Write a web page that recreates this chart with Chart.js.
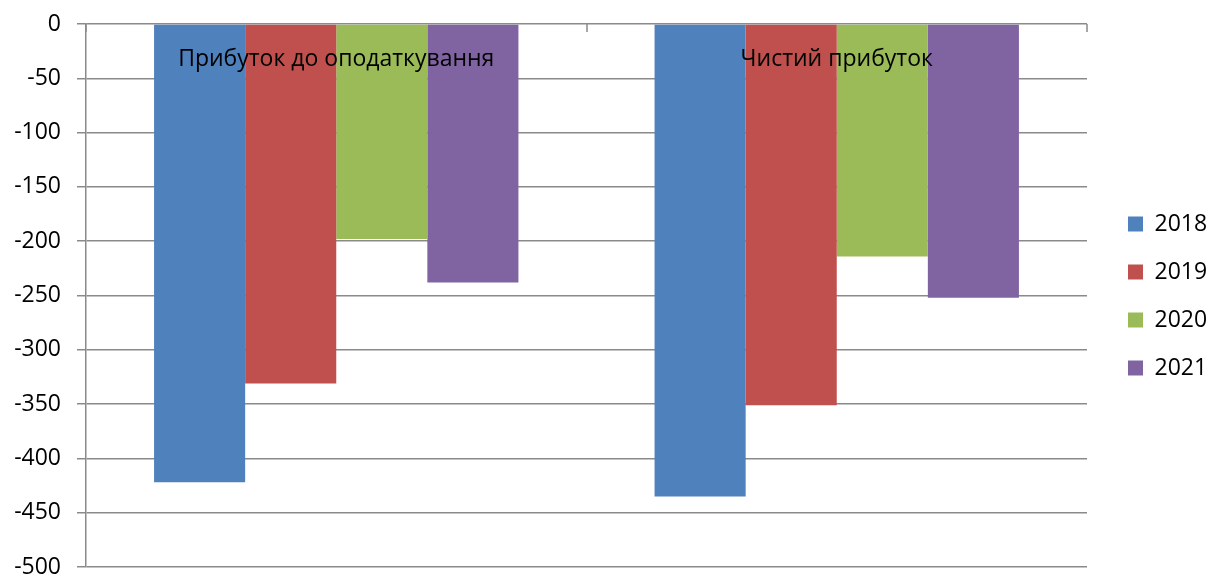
<!DOCTYPE html>
<html>
<head>
<meta charset="utf-8">
<script src="https://cdn.jsdelivr.net/npm/chart.js@4/dist/chart.umd.min.js"></script>
<style>
  html, body { margin: 0; padding: 0; background: #fff; }
  #wrap { width: 1218px; height: 577px; }
</style>
</head>
<body>
<div id="wrap"><canvas id="c" width="1218" height="577"></canvas></div>
<script>
// Categories, series and axis range
const categories = ['Прибуток до оподаткування', 'Чистий прибуток'];
const years = ['2018', '2019', '2020', '2021'];
const values2018 = [-422, -435];
const values2019 = [-331, -351];
const values2020 = [-198, -214];
const values2021 = [-238, -252];
const yMin = -500;
const yMax = 0;
const yStep = 50;

const seriesValues = [values2018, values2019, values2020, values2021];
const seriesColors = ['#4F81BD', '#C0504D', '#9BBB59', '#8064A2'];
const FONT = '"Open Sans", "DejaVu Sans", sans-serif';
const AXIS_GREY = '#8a8a8a';

// Category names are written inside the plot, just under the zero line,
// with short tick marks hanging from the zero line at category boundaries.
const categoryLabels = {
  id: 'categoryLabels',
  afterDatasetsDraw(chart) {
    const { ctx, chartArea, scales: { x } } = chart;
    ctx.save();
    ctx.font = '23px ' + FONT;
    ctx.fillStyle = '#000';
    ctx.textAlign = 'center';
    ctx.textBaseline = 'alphabetic';
    chart.data.labels.forEach((lab, i) => {
      ctx.fillText(lab, x.getPixelForValue(i), chartArea.top + 42);
    });
    ctx.strokeStyle = AXIS_GREY;
    ctx.lineWidth = 1.5;
    for (let i = 0; i <= chart.data.labels.length; i++) {
      const px = Math.round(x.getPixelForValue(i - 0.5));
      ctx.beginPath();
      ctx.moveTo(px, chartArea.top);
      ctx.lineTo(px, chartArea.top + 8);
      ctx.stroke();
    }
    ctx.restore();
  }
};

// Fixed legend column on the right, items set in from the plot edge.
const legendLayout = {
  id: 'legendLayout',
  beforeLayout(chart) {
    const lg = chart.legend;
    if (lg && !lg._fixedWidth) {
      const fit = lg.fit;
      lg.fit = function () { fit.call(this); this.width = 131; };
      lg._fixedWidth = true;
    }
  },
  afterLayout(chart) {
    chart.legend.left += 16;
    chart.legend.top += 1;
  }
};

new Chart(document.getElementById('c'), {
  type: 'bar',
  data: {
    labels: categories,
    datasets: years.map((y, i) => ({
      label: y,
      data: seriesValues[i],
      backgroundColor: seriesColors[i],
      borderWidth: 0,
      barPercentage: 1,
      categoryPercentage: 0.728
    }))
  },
  options: {
    responsive: false,
    devicePixelRatio: 1,
    animation: false,
    layout: { padding: { left: 0, top: 24, right: 0, bottom: 10 } },
    plugins: {
      tooltip: { enabled: false },
      legend: {
        position: 'right',
        labels: {
          font: { family: FONT, size: 23 },
          color: '#000',
          boxWidth: 15,
          boxHeight: 15,
          padding: 25
        }
      }
    },
    scales: {
      x: { display: false },
      y: {
        min: yMin,
        max: yMax,
        ticks: {
          stepSize: yStep,
          color: '#000',
          font: { family: FONT, size: 23 },
          padding: 16
        },
        grid: { color: AXIS_GREY, lineWidth: 1.5, tickLength: 9, drawTicks: true },
        border: { color: AXIS_GREY, width: 1.5 },
        afterFit(scale) {
          // fixed axis width; the outer layout padding sets the plot's top and bottom
          scale.width = 86;
          scale.paddingTop = 0;
          scale.paddingBottom = 0;
        }
      }
    }
  },
  plugins: [categoryLabels, legendLayout]
});
</script>
</body>
</html>
